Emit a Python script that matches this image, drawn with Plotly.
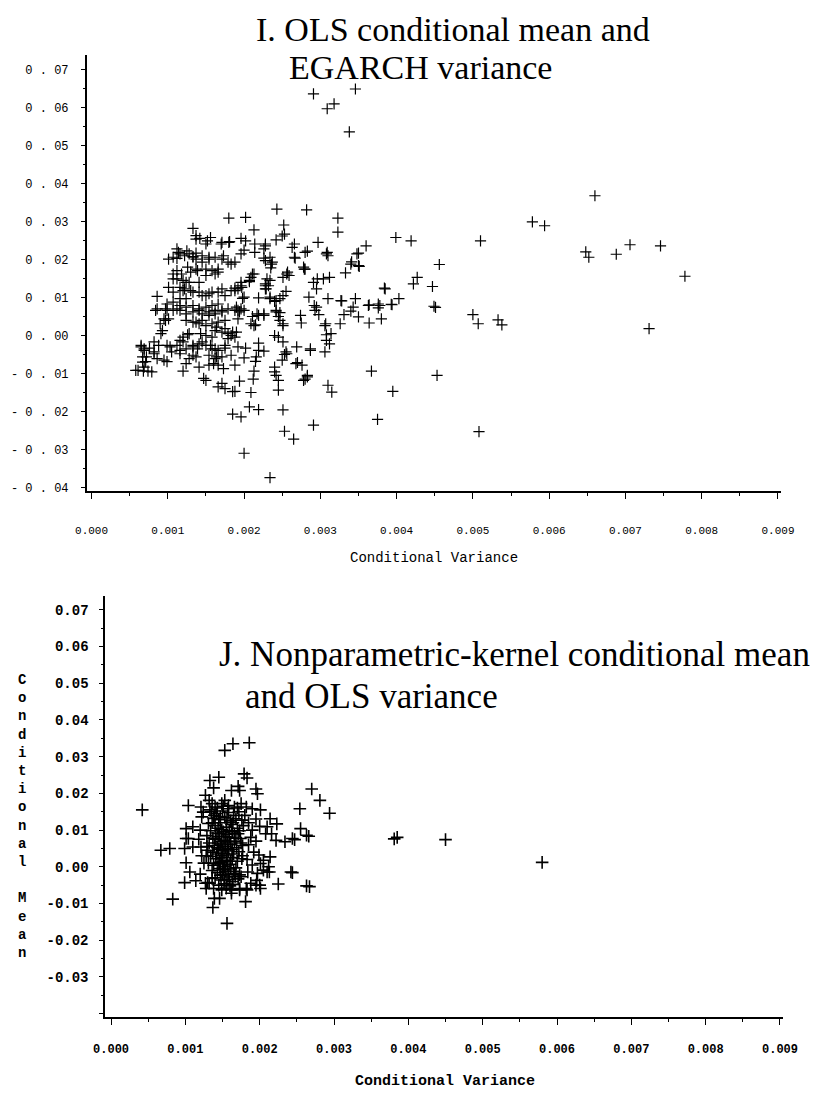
import plotly.graph_objects as go

# ---------------- DATA ----------------
# Panel I: OLS conditional mean vs EGARCH variance  (x = conditional variance, y = conditional mean)
top_outliers = [
    (0.00291, 0.0636), (0.00309, 0.0597), (0.00318, 0.0610), (0.00346, 0.0649), (0.00338, 0.0536),
    (0.00660, 0.0368), (0.00578, 0.0299), (0.00594, 0.0289), (0.00419, 0.0249), (0.00510, 0.0249),
    (0.00648, 0.0220), (0.00652, 0.0206), (0.00688, 0.0214), (0.00706, 0.0239), (0.00746, 0.0236),
    (0.00778, 0.0156), (0.00456, 0.0187), (0.00422, 0.0136), (0.00427, 0.0153), (0.00447, 0.0129),
    (0.00403, 0.0097), (0.00449, 0.0077), (0.00451, 0.0074), (0.00500, 0.0055), (0.00507, 0.0031),
    (0.00533, 0.0041), (0.00538, 0.0028), (0.00731, 0.0018), (0.00453, -0.0105), (0.00508, -0.0253),
]
top_upper = [
    (0.00323, 0.0309), (0.00323, 0.0272), (0.00282, 0.0331), (0.00243, 0.0333), (0.00252, 0.0291),
    (0.00202, 0.0311), (0.00213, 0.0278), (0.00180, 0.0309), (0.00133, 0.0282), (0.00399, 0.0258),
    (0.00360, 0.0236), (0.00297, 0.0245), (0.00242, 0.0252), (0.00250, 0.0262), (0.00228, 0.0236),
    (0.00196, 0.0256), (0.00202, 0.0249), (0.00170, 0.0241), (0.00180, 0.0245), (0.00137, 0.0254),
    (0.00150, 0.0241), (0.00156, 0.0258), (0.00228, 0.0241), (0.00226, 0.0228), (0.00253, 0.0267),
    (0.00266, 0.0241), (0.00263, 0.0232), (0.00283, 0.0222), (0.00309, 0.0219), (0.00310, 0.0210),
    (0.00350, 0.0217), (0.00196, 0.0215), (0.00200, 0.0225), (0.00214, 0.0241), (0.00214, 0.0219),
    (0.00226, 0.0204), (0.00228, 0.0197), (0.00267, 0.0204), (0.00266, 0.0206), (0.00308, 0.0215),
    (0.00348, 0.0215), (0.00280, 0.0219), (0.00234, 0.0206), (0.00137, 0.0263), (0.00142, 0.0256),
    (0.00152, 0.0249), (0.00171, 0.0245), (0.00181, 0.0247), (0.00112, 0.0228), (0.00116, 0.0215),
    (0.00114, 0.0219), (0.00101, 0.0201), (0.00112, 0.0203), (0.00107, 0.0206), (0.00133, 0.0206),
    (0.00137, 0.0201), (0.00145, 0.0210), (0.00154, 0.0206), (0.00162, 0.0206), (0.00171, 0.0201),
    (0.00173, 0.0210), (0.00133, 0.0208), (0.00137, 0.0217), (0.00154, 0.0201), (0.00125, 0.0223),
    (0.00128, 0.0215), (0.00122, 0.0210),
]
top_middle = [
    (0.00237, 0.0193), (0.00235, 0.0178), (0.00279, 0.0175), (0.00341, 0.0194), (0.00351, 0.0182),
    (0.00333, 0.0165), (0.00340, 0.0188), (0.00350, 0.0184), (0.00384, 0.0125), (0.00385, 0.0123),
    (0.00393, 0.0082), (0.00376, 0.0083), (0.00376, 0.0073), (0.00364, 0.0081), (0.00363, 0.0079),
    (0.00378, 0.0079), (0.00394, 0.0081), (0.00380, 0.0044), (0.00364, 0.0033), (0.00346, 0.0097),
    (0.00343, 0.0075), (0.00340, 0.0064), (0.00331, 0.0055), (0.00350, 0.0049), (0.00326, 0.0031),
    (0.00310, 0.0097), (0.00328, 0.0091), (0.00327, 0.0092), (0.00292, 0.0079), (0.00295, 0.0075),
    (0.00293, 0.0066), (0.00298, 0.0055), (0.00291, 0.0140), (0.00296, 0.0149), (0.00304, 0.0149),
    (0.00312, 0.0153), (0.00295, 0.0123), (0.00285, 0.0101), (0.00307, 0.0031), (0.00306, 0.0026),
    (0.00308, 0.0002), (0.00314, 0.0005), (0.00274, 0.0053), (0.00275, 0.0033), (0.00255, 0.0116),
    (0.00251, 0.0105), (0.00240, 0.0090), (0.00234, 0.0101), (0.00229, 0.0123), (0.00228, 0.0136),
    (0.00234, 0.0145), (0.00230, 0.0149), (0.00256, 0.0162), (0.00259, 0.0158), (0.00251, 0.0153),
    (0.00257, 0.0167), (0.00280, 0.0175), (0.00278, 0.0180), (0.00236, 0.0188), (0.00247, 0.0060),
    (0.00245, 0.0050), (0.00251, 0.0031), (0.00240, 0.0000), (0.00211, 0.0050), (0.00209, 0.0031),
    (0.00215, 0.0028), (0.00213, 0.0162), (0.00209, 0.0153), (0.00207, 0.0145), (0.00211, 0.0162),
    (0.00207, 0.0142), (0.00194, 0.0062), (0.00192, 0.0044), (0.00190, 0.0009), (0.00226, 0.0053),
    (0.00219, 0.0053), (0.00228, 0.0131), (0.00242, 0.0062), (0.00192, 0.0123), (0.00188, 0.0118),
    (0.00198, 0.0098), (0.00196, 0.0140), (0.00232, 0.0131), (0.00228, 0.0123), (0.00234, 0.0097),
    (0.00242, 0.0092), (0.00247, 0.0097), (0.00219, 0.0099), (0.00200, 0.0101), (0.00197, 0.0127),
    (0.00188, 0.0125), (0.00217, 0.0057), (0.00226, 0.0057), (0.00213, 0.0026), (0.00242, 0.0066),
    (0.00247, 0.0040), (0.00251, 0.0026), (0.00183, 0.0000), (0.00171, 0.0009), (0.00175, 0.0018),
    (0.00164, 0.0022), (0.00128, 0.0005), (0.00126, 0.0002), (0.00137, 0.0035), (0.00145, 0.0040),
    (0.00150, 0.0026), (0.00154, 0.0053), (0.00162, 0.0057), (0.00171, 0.0066), (0.00179, 0.0070),
    (0.00192, 0.0066), (0.00196, 0.0070), (0.00190, 0.0075), (0.00166, 0.0083), (0.00158, 0.0079),
    (0.00150, 0.0075), (0.00141, 0.0070), (0.00133, 0.0062), (0.00124, 0.0057), (0.00116, 0.0066),
    (0.00107, 0.0066), (0.00150, 0.0105), (0.00158, 0.0114), (0.00171, 0.0123), (0.00183, 0.0118),
    (0.00133, 0.0114), (0.00124, 0.0097), (0.00116, 0.0097), (0.00141, 0.0140), (0.00150, 0.0158),
    (0.00137, 0.0175), (0.00145, 0.0193), (0.00162, 0.0162), (0.00166, 0.0175), (0.00183, 0.0188),
    (0.00188, 0.0193), (0.00124, 0.0140), (0.00120, 0.0118), (0.00107, 0.0149), (0.00107, 0.0114),
    (0.00107, 0.0088), (0.00093, 0.0013), (0.00091, 0.0005), (0.00097, 0.0040), (0.00101, 0.0044),
    (0.00084, 0.0066), (0.00099, 0.0066), (0.00086, 0.0103), (0.00101, 0.0127), (0.00116, 0.0127),
    (0.00118, 0.0162), (0.00112, 0.0171), (0.00179, 0.0193), (0.00126, 0.0180), (0.00130, 0.0167),
    (0.00139, 0.0171), (0.00150, 0.0175), (0.00158, 0.0171), (0.00166, 0.0167), (0.00107, 0.0162),
    (0.00112, 0.0149), (0.00120, 0.0145), (0.00128, 0.0140), (0.00122, 0.0123), (0.00130, 0.0118),
    (0.00141, 0.0114), (0.00145, 0.0105), (0.00154, 0.0110), (0.00166, 0.0114), (0.00175, 0.0105),
    (0.00196, 0.0131), (0.00099, 0.0083), (0.00097, 0.0070), (0.00112, 0.0070), (0.00116, 0.0079),
    (0.00124, 0.0075), (0.00133, 0.0079), (0.00141, 0.0066), (0.00145, 0.0057), (0.00154, 0.0062),
    (0.00162, 0.0066), (0.00171, 0.0062), (0.00188, 0.0066), (0.00200, 0.0066), (0.00086, 0.0070),
    (0.00095, 0.0044), (0.00090, 0.0031), (0.00124, 0.0040), (0.00133, 0.0035), (0.00141, 0.0031),
    (0.00158, 0.0031), (0.00166, 0.0035), (0.00175, 0.0040), (0.00143, 0.0005), (0.00162, 0.0013),
    (0.00179, 0.0005), (0.00185, 0.0009),
]
top_lower = [
    (0.00150, 0.0000), (0.00308, -0.0013), (0.00312, -0.0022), (0.00306, -0.0043), (0.00287, -0.0039),
    (0.00287, -0.0035), (0.00269, -0.0030), (0.00270, -0.0071), (0.00268, -0.0074), (0.00276, -0.0078),
    (0.00280, -0.0115), (0.00283, -0.0109), (0.00278, -0.0118), (0.00283, -0.0105), (0.00251, -0.0017),
    (0.00245, -0.0004), (0.00255, -0.0043), (0.00256, -0.0048), (0.00253, -0.0050), (0.00250, -0.0065),
    (0.00240, -0.0083), (0.00240, -0.0096), (0.00245, -0.0118), (0.00245, -0.0144), (0.00242, -0.0105),
    (0.00213, -0.0094), (0.00212, -0.0115), (0.00209, -0.0150), (0.00194, -0.0120), (0.00188, -0.0147),
    (0.00185, -0.0148), (0.00175, -0.0140), (0.00166, -0.0135), (0.00207, -0.0188), (0.00219, -0.0195),
    (0.00196, -0.0214), (0.00185, -0.0207), (0.00251, -0.0196), (0.00253, -0.0252), (0.00265, -0.0273),
    (0.00291, -0.0236), (0.00200, -0.0310), (0.00234, -0.0374), (0.00367, -0.0094), (0.00395, -0.0147),
    (0.00310, -0.0131), (0.00315, -0.0149), (0.00375, -0.0221), (0.00219, -0.0020), (0.00226, -0.0041),
    (0.00216, -0.0056), (0.00215, -0.0068), (0.00200, -0.0059), (0.00188, -0.0078), (0.00202, -0.0033),
    (0.00175, -0.0033), (0.00219, -0.0039), (0.00192, -0.0030), (0.00188, -0.0004), (0.00179, -0.0008),
    (0.00158, -0.0004), (0.00156, -0.0026), (0.00162, -0.0035), (0.00154, -0.0052), (0.00164, -0.0056),
    (0.00145, -0.0017), (0.00139, -0.0035), (0.00133, -0.0052), (0.00128, -0.0061), (0.00124, -0.0074),
    (0.00133, -0.0026), (0.00124, -0.0035), (0.00116, -0.0039), (0.00120, -0.0004), (0.00120, -0.0094),
    (0.00141, -0.0083), (0.00147, -0.0113), (0.00150, -0.0118), (0.00154, -0.0078), (0.00160, -0.0074),
    (0.00166, -0.0078), (0.00173, -0.0087), (0.00171, -0.0126), (0.00061, -0.0092), (0.00068, -0.0094),
    (0.00079, -0.0096), (0.00058, -0.0092), (0.00074, -0.0094), (0.00065, -0.0030), (0.00069, -0.0035),
    (0.00076, -0.0033), (0.00067, -0.0056), (0.00071, -0.0069), (0.00069, -0.0083), (0.00082, -0.0043),
    (0.00086, -0.0061), (0.00095, -0.0065), (0.00099, -0.0069), (0.00088, -0.0026), (0.00099, -0.0026),
    (0.00103, -0.0030), (0.00112, -0.0026), (0.00116, -0.0013), (0.00065, -0.0026), (0.00069, -0.0039),
    (0.00072, -0.0056), (0.00067, -0.0070), (0.00082, -0.0017), (0.00120, -0.0017), (0.00133, -0.0030),
    (0.00141, -0.0022), (0.00150, -0.0026), (0.00158, -0.0035), (0.00166, -0.0039), (0.00175, -0.0026),
    (0.00082, -0.0048), (0.00105, -0.0043), (0.00116, -0.0048), (0.00137, -0.0056), (0.00162, -0.0061),
    (0.00171, -0.0056), (0.00183, -0.0052),
]

# Panel J: Nonparametric-kernel conditional mean vs OLS variance
bottom_outliers = [
    (0.00042, 0.0155), (0.00104, 0.0167), (0.00153, 0.0317), (0.00164, 0.0335), (0.00186, 0.0338),
    (0.00270, 0.0212), (0.00281, 0.0181), (0.00294, 0.0146), (0.00254, 0.0158), (0.00385, 0.0080),
    (0.00381, 0.0076), (0.00450, 0.0074), (0.00580, 0.0012),
]
bottom_core = [
    (0.00135, 0.0150), (0.00142, 0.0145), (0.00150, 0.0152), (0.00158, 0.0148), (0.00165, 0.0140),
    (0.00172, 0.0150), (0.00138, 0.0132), (0.00145, 0.0128), (0.00153, 0.0135), (0.00161, 0.0125),
    (0.00168, 0.0131), (0.00176, 0.0127), (0.00131, 0.0118), (0.00140, 0.0112), (0.00147, 0.0120),
    (0.00155, 0.0108), (0.00162, 0.0115), (0.00170, 0.0105), (0.00178, 0.0112), (0.00134, 0.0098),
    (0.00141, 0.0092), (0.00149, 0.0101), (0.00156, 0.0088), (0.00163, 0.0095), (0.00171, 0.0090),
    (0.00129, 0.0085), (0.00137, 0.0078), (0.00144, 0.0083), (0.00152, 0.0072), (0.00159, 0.0080),
    (0.00166, 0.0070), (0.00174, 0.0077), (0.00132, 0.0065), (0.00139, 0.0058), (0.00147, 0.0062),
    (0.00154, 0.0055), (0.00161, 0.0060), (0.00169, 0.0052), (0.00177, 0.0058), (0.00130, 0.0045),
    (0.00137, 0.0040), (0.00145, 0.0048), (0.00152, 0.0037), (0.00158, 0.0043), (0.00165, 0.0035),
    (0.00172, 0.0041), (0.00134, 0.0028), (0.00141, 0.0022), (0.00148, 0.0030), (0.00155, 0.0018),
    (0.00163, 0.0025), (0.00170, 0.0015), (0.00176, 0.0022), (0.00131, 0.0010), (0.00138, 0.0004),
    (0.00146, 0.0012), (0.00153, 0.0000), (0.00160, 0.0007), (0.00168, -0.0003), (0.00136, -0.0010),
    (0.00143, -0.0016), (0.00151, -0.0008), (0.00158, -0.0020), (0.00165, -0.0012), (0.00173, -0.0022),
    (0.00140, -0.0030), (0.00148, -0.0036), (0.00156, -0.0028), (0.00163, -0.0040), (0.00171, -0.0033),
    (0.00152, -0.0046), (0.00160, -0.0052), (0.00145, -0.0050), (0.00143, 0.0160), (0.00151, 0.0165),
    (0.00157, 0.0158), (0.00139, 0.0140), (0.00147, 0.0137), (0.00156, 0.0130), (0.00164, 0.0120),
    (0.00144, 0.0105), (0.00151, 0.0095), (0.00159, 0.0099), (0.00146, 0.0090), (0.00154, 0.0082),
    (0.00141, 0.0075), (0.00149, 0.0068), (0.00157, 0.0065), (0.00143, 0.0052), (0.00150, 0.0045),
    (0.00157, 0.0050), (0.00163, 0.0047), (0.00142, 0.0035), (0.00149, 0.0025), (0.00156, 0.0032),
    (0.00161, 0.0015), (0.00144, 0.0008), (0.00150, 0.0014), (0.00157, 0.0005), (0.00147, -0.0005),
    (0.00154, -0.0012), (0.00161, -0.0006), (0.00150, -0.0022), (0.00159, -0.0034), (0.00167, -0.0026),
    (0.00155, -0.0058), (0.00164, -0.0048), (0.00136, 0.0120), (0.00173, 0.0098), (0.00175, 0.0065),
    (0.00177, 0.0030), (0.00129, 0.0055), (0.00128, 0.0030), (0.00133, 0.0155), (0.00170, 0.0160),
    (0.00166, 0.0090), (0.00168, 0.0078),
]
bottom_edge = [
    (0.00133, 0.0235), (0.00145, 0.0244), (0.00138, 0.0215), (0.00179, 0.0253), (0.00183, 0.0242),
    (0.00162, 0.0208), (0.00171, 0.0219), (0.00173, 0.0208), (0.00195, 0.0212), (0.00197, 0.0199),
    (0.00121, 0.0163), (0.00124, 0.0149), (0.00122, 0.0136), (0.00132, 0.0181), (0.00136, 0.0172),
    (0.00140, 0.0163), (0.00149, 0.0172), (0.00153, 0.0181), (0.00158, 0.0167), (0.00166, 0.0163),
    (0.00175, 0.0172), (0.00182, 0.0163), (0.00190, 0.0158), (0.00201, 0.0155), (0.00214, 0.0131),
    (0.00223, 0.0117), (0.00210, 0.0109), (0.00216, 0.0090), (0.00208, 0.0090), (0.00234, 0.0068),
    (0.00247, 0.0074), (0.00244, 0.0077), (0.00222, 0.0072), (0.00255, 0.0104), (0.00263, 0.0086),
    (0.00266, 0.0083), (0.00101, 0.0104), (0.00110, 0.0109), (0.00104, 0.0077), (0.00101, 0.0077),
    (0.00099, 0.0050), (0.00110, 0.0054), (0.00121, 0.0054), (0.00067, 0.0045), (0.00079, 0.0050),
    (0.00101, 0.0011), (0.00106, -0.0014), (0.00099, -0.0043), (0.00114, -0.0038), (0.00130, -0.0043),
    (0.00083, -0.0088), (0.00128, -0.0059), (0.00132, -0.0045), (0.00139, -0.0086), (0.00146, -0.0086),
    (0.00137, -0.0111), (0.00156, -0.0154), (0.00162, -0.0072), (0.00173, -0.0063), (0.00183, -0.0063),
    (0.00181, -0.0095), (0.00200, -0.0050), (0.00196, -0.0037), (0.00210, -0.0014), (0.00225, -0.0047),
    (0.00242, -0.0014), (0.00244, -0.0016), (0.00263, -0.0052), (0.00267, -0.0054), (0.00201, 0.0009),
    (0.00205, -0.0009), (0.00212, 0.0000), (0.00214, 0.0027), (0.00199, 0.0032), (0.00190, 0.0005),
    (0.00197, -0.0018), (0.00188, -0.0045), (0.00195, -0.0050), (0.00201, -0.0059), (0.00138, -0.0059),
    (0.00149, -0.0063), (0.00162, -0.0063), (0.00173, -0.0059), (0.00182, -0.0059), (0.00127, -0.0045),
    (0.00136, -0.0032), (0.00147, -0.0023), (0.00153, -0.0036), (0.00166, -0.0018), (0.00175, -0.0027),
    (0.00184, -0.0014), (0.00205, 0.0018), (0.00213, -0.0014), (0.00185, 0.0120), (0.00190, 0.0100),
    (0.00188, 0.0080), (0.00185, 0.0060), (0.00192, 0.0040), (0.00183, 0.0020), (0.00195, 0.0130),
    (0.00120, 0.0100), (0.00118, 0.0075), (0.00122, 0.0030), (0.00125, 0.0010), (0.00120, -0.0020),
    (0.00195, 0.0070), (0.00200, 0.0110), (0.00180, 0.0140), (0.00127, 0.0195),
]

# ticks and texts
y_tick_vals = [0.07, 0.06, 0.05, 0.04, 0.03, 0.02, 0.01, 0.00, -0.01, -0.02, -0.03, -0.04]
top_y_tick_text = ["0 . 07", "0 . 06", "0 . 05", "0 . 04", "0 . 03", "0 . 02", "0 . 01", "0 . 00",
                   "- 0 . 01", "- 0 . 02", "- 0 . 03", "- 0 . 04"]
bottom_y_tick_text = ["0.07", "0.06", "0.05", "0.04", "0.03", "0.02", "0.01", "0.00",
                      "-0.01", "-0.02", "-0.03", ""]
x_tick_vals = [0.000, 0.001, 0.002, 0.003, 0.004, 0.005, 0.006, 0.007, 0.008, 0.009]
x_tick_text = ["0.000", "0.001", "0.002", "0.003", "0.004", "0.005", "0.006", "0.007", "0.008", "0.009"]
title_top = ["I. OLS conditional mean and", "EGARCH variance"]
title_bottom = ["J. Nonparametric-kernel conditional mean", "and OLS variance"]
x_title = "Conditional Variance"
y_title_bottom = "Conditional Mean"

# ---------------- FIGURE ----------------
W, H = 818, 1099
OFF = 8  # the page body has an 8px margin; positions below are screen pixels
top_pts = top_outliers + top_upper + top_middle + top_lower
bot_pts = bottom_outliers + bottom_core + bottom_edge

fig = go.Figure()
fig.add_trace(go.Scatter(
    x=[p[0] for p in top_pts], y=[p[1] for p in top_pts], mode="markers",
    marker=dict(symbol="cross-thin", size=8, color="black", line=dict(color="black", width=1.2)),
    xaxis="x", yaxis="y", showlegend=False, hoverinfo="skip"))
fig.add_trace(go.Scatter(
    x=[p[0] for p in bot_pts], y=[p[1] for p in bot_pts], mode="markers",
    marker=dict(symbol="cross-thin", size=9, color="black", line=dict(color="black", width=1.6)),
    xaxis="x2", yaxis="y2", showlegend=False, hoverinfo="skip"))

def px_x(p):
    return (p - OFF) / W

def px_y(p):
    return 1 - (p - OFF) / H

mono = "Liberation Mono"
axis_common = dict(showgrid=False, zeroline=False, showline=True, linecolor="black",
                   linewidth=1.5, ticks="outside", tickcolor="black", mirror=False)

fig.update_layout(
    width=W, height=H, margin=dict(l=0, r=0, t=0, b=0),
    paper_bgcolor="white", plot_bgcolor="white",
    xaxis=dict(domain=[px_x(77), px_x(795)], range=[-0.000063, 0.00904], anchor="y",
               tickvals=x_tick_vals, ticktext=x_tick_text, ticklen=6, tickwidth=1.2,
               ticklabelstandoff=22,
               minor=dict(ticks="outside", ticklen=3, dtick=0.0005, tickcolor="black"),
               tickfont=dict(family=mono, size=11, color="black"), **axis_common),
    yaxis=dict(domain=[px_y(493), px_y(55)], range=[-0.041, 0.0739], anchor="x",
               tickvals=y_tick_vals, ticktext=top_y_tick_text, ticklen=4, tickwidth=1.2,
               ticklabelstandoff=10,
               minor=dict(ticks="outside", ticklen=2, dtick=0.005, tickcolor="black"),
               tickfont=dict(family=mono, size=12, color="black"), **axis_common),
    xaxis2=dict(domain=[px_x(96), px_x(797)], range=[-0.00008, 0.00904], anchor="y2",
                tickvals=x_tick_vals, ticktext=x_tick_text, ticklen=6, tickwidth=1.2,
                ticklabelstandoff=14,
                minor=dict(ticks="outside", ticklen=3, dtick=0.0005, tickcolor="black"),
                tickfont=dict(family=mono, size=12, color="black", weight="bold"), **axis_common),
    yaxis2=dict(domain=[px_y(1021), px_y(598)], range=[-0.041, 0.0738], anchor="x2",
                tickvals=y_tick_vals, ticktext=bottom_y_tick_text, ticklen=4, tickwidth=1.2,
                ticklabelstandoff=8,
                minor=dict(ticks="outside", ticklen=2, dtick=0.005, tickcolor="black"),
                tickfont=dict(family=mono, size=14, color="black", weight="bold"), **axis_common),
)

serif = "Liberation Serif"
ann = []
ann.append(dict(x=px_x(250), y=px_y(30), text=title_top[0], xanchor="left", yanchor="middle",
                font=dict(family=serif, size=34, color="black")))
ann.append(dict(x=px_x(284), y=px_y(68), text=title_top[1], xanchor="left", yanchor="middle",
                font=dict(family=serif, size=34, color="black")))
ann.append(dict(x=px_x(212), y=px_y(657), text=title_bottom[0], xanchor="left", yanchor="middle",
                font=dict(family=serif, size=35, color="black")))
ann.append(dict(x=px_x(239), y=px_y(699), text=title_bottom[1], xanchor="left", yanchor="middle",
                font=dict(family=serif, size=35, color="black")))
ann.append(dict(x=px_x(436), y=px_y(560), text=x_title, xanchor="center", yanchor="middle",
                font=dict(family=mono, size=14, color="black")))
ann.append(dict(x=px_x(447), y=px_y(1085), text=x_title, xanchor="center", yanchor="middle",
                font=dict(family=mono, size=15, color="black", weight="bold")))
word1, word2 = y_title_bottom.split(" ")
stacked = "<br>".join(list(word1)) + "<br><br>" + "<br>".join(list(word2))
ann.append(dict(x=px_x(11), y=px_y(672), text=stacked, xanchor="center", yanchor="top",
                align="center", font=dict(family=mono, size=14, color="black", weight="bold")))
for a in ann:
    a.update(xref="paper", yref="paper", showarrow=False)
fig.update_layout(annotations=ann)

fig.write_html("out.html")
